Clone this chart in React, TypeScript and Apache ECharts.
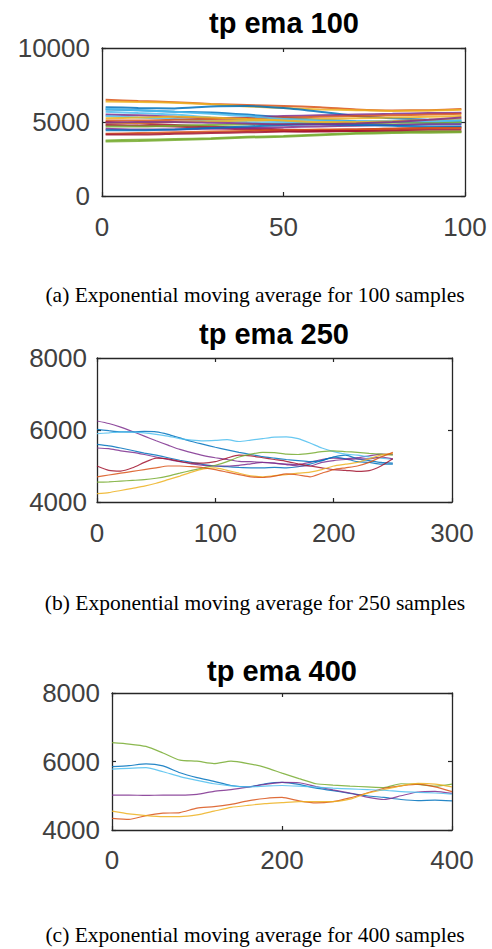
import React, { useEffect, useRef } from "react";
import * as echarts from "echarts";

// ---------- data ----------
const titleA = "tp ema 100";
const titleB = "tp ema 250";
const titleC = "tp ema 400";
const captionA = "(a) Exponential moving average for 100 samples";
const captionB = "(b) Exponential moving average for 250 samples";
const captionC = "(c) Exponential moving average for 400 samples";

// panel (a): 100 samples
const xA = [1, 10, 20, 30, 40, 50, 60, 70, 80, 90, 99];
const a01 = [6500, 6420, 6340, 6220, 6150, 6080, 6000, 5850, 5780, 5800, 5880];
const a02 = [6380, 6350, 6300, 6200, 6050, 5950, 5850, 5800, 5750, 5780, 5820];
const a03 = [6000, 5950, 5920, 6050, 6080, 5950, 5700, 5400, 5250, 5150, 5050];
const a04 = [5850, 5800, 5700, 5650, 5500, 5300, 5150, 5050, 5000, 4950, 4900];
const a05 = [5700, 5600, 5500, 5300, 5150, 5050, 4950, 5000, 5050, 5100, 5150];
const a06 = [5500, 5450, 5350, 5250, 5300, 5400, 5450, 5500, 5550, 5600, 5620];
const a07 = [5400, 5300, 5200, 5100, 5000, 4950, 4900, 4850, 4800, 4850, 4900];
const a08 = [5100, 5100, 5150, 5200, 5250, 5300, 5350, 5400, 5450, 5500, 5550];
const a09 = [5000, 4900, 4800, 4700, 4600, 4500, 4450, 4500, 4550, 4600, 4650];
const a10 = [4900, 4950, 5000, 5050, 5100, 5150, 5200, 5250, 5300, 5350, 5400];
const a11 = [4800, 4750, 4700, 4600, 4500, 4400, 4350, 4400, 4450, 4500, 4500];
const a12 = [4700, 4700, 4750, 4800, 4850, 4850, 4900, 4900, 4950, 4950, 5000];
const a13 = [4550, 4500, 4500, 4550, 4600, 4650, 4700, 4750, 4800, 4850, 4850];
const a14 = [4450, 4450, 4500, 4600, 4700, 4800, 4850, 4800, 4750, 4700, 4700];
const a15 = [4200, 4250, 4300, 4350, 4400, 4450, 4500, 4500, 4550, 4600, 4600];
const a16 = [4150, 4150, 4200, 4250, 4300, 4350, 4400, 4400, 4350, 4350, 4350];
const a17 = [3750, 3800, 3850, 3900, 4000, 4050, 4150, 4250, 4300, 4350, 4350];
const a18 = [3680, 3720, 3780, 3850, 3950, 4000, 4100, 4200, 4250, 4280, 4300];
const a19 = [5900, 5800, 5700, 5550, 5400, 5200, 5100, 5050, 5050, 5050, 5100];
const a20 = [5250, 5300, 5350, 5300, 5200, 5100, 5000, 5000, 5050, 5150, 5250];
const a21 = [4950, 5000, 5000, 4950, 4900, 4850, 4850, 4900, 5000, 5150, 5300];

// panel (b): 250 samples
const xB = [0, 10, 20, 30, 40, 50, 60, 70, 80, 90, 100, 110, 120, 130, 140, 150, 160, 170, 180, 190, 200, 210, 220, 230, 240, 250];
const b1 = [6250, 6180, 6080, 5960, 5830, 5700, 5580, 5460, 5370, 5290, 5230, 5180, 5130, 5120, 5100, 5080, 5050, 5040, 5100, 5180, 5220, 5200, 5230, 5280, 5330, 5320];
const b2 = [6020, 5980, 5950, 5950, 5960, 5950, 5880, 5780, 5680, 5600, 5520, 5450, 5380, 5320, 5260, 5220, 5180, 5150, 5120, 5150, 5250, 5300, 5200, 5150, 5100, 5080];
const b3 = [5900, 5920, 5950, 5940, 5920, 5880, 5830, 5760, 5720, 5700, 5710, 5730, 5680, 5720, 5760, 5800, 5810, 5760, 5640, 5500, 5400, 5330, 5300, 5250, 5220, 5180];
const b4 = [5600, 5560, 5500, 5430, 5360, 5300, 5230, 5160, 5100, 5040, 5000, 4980, 4960, 4950, 4950, 4960, 4950, 4980, 5050, 5150, 5250, 5200, 5120, 5100, 5050, 5050];
const b5 = [5500, 5480, 5420, 5380, 5320, 5250, 5180, 5120, 5060, 5020, 5000, 5000, 5020, 5060, 5100, 5080, 5040, 5000, 5000, 5100, 5150, 5180, 5200, 5200, 5250, 5200];
const b6 = [5000, 4880, 4860, 4950, 5100, 5220, 5200, 5130, 5080, 5080, 5120, 5220, 5300, 5280, 5230, 5180, 5130, 5060, 5000, 4950, 4900, 4880, 4850, 4870, 5000, 5200];
const b7 = [4550, 4560, 4580, 4600, 4620, 4660, 4720, 4800, 4880, 4950, 5020, 5120, 5250, 5330, 5380, 5370, 5330, 5320, 5350, 5400, 5420, 5400, 5380, 5350, 5330, 5300];
const b8 = [4230, 4260, 4320, 4380, 4440, 4520, 4620, 4720, 4830, 4920, 4950, 4880, 4800, 4730, 4700, 4730, 4760, 4800, 4830, 4900, 5000, 5050, 5100, 5200, 5300, 5350];
const b9 = [4700, 4750, 4800, 4850, 4900, 4950, 5000, 5000, 4980, 4950, 4900, 4830, 4760, 4700, 4680, 4720, 4780, 4750, 4700, 4800, 4900, 4950, 5000, 5100, 5250, 5380];

// panel (c): 400 samples
const xC = [0, 20, 40, 60, 80, 100, 120, 140, 160, 180, 200, 220, 240, 260, 280, 300, 320, 340, 360, 380, 400];
const c1 = [6550, 6510, 6440, 6250, 6040, 6010, 5940, 6010, 5940, 5830, 5660, 5500, 5350, 5310, 5280, 5260, 5240, 5350, 5330, 5280, 5340];
const c2 = [5850, 5880, 5930, 5870, 5670, 5530, 5420, 5300, 5260, 5350, 5390, 5330, 5220, 5150, 5070, 5000, 4950, 4890, 4860, 4870, 4850];
const c3 = [5020, 5020, 5010, 5020, 5020, 5040, 5130, 5180, 5250, 5330, 5390, 5380, 5270, 5170, 5080, 4960, 4890, 5000, 5110, 5130, 5070];
const c4 = [4340, 4310, 4420, 4490, 4510, 4640, 4680, 4750, 4850, 4920, 4950, 4850, 4790, 4830, 4940, 5080, 5220, 5290, 5340, 5260, 5120];
const c5 = [4550, 4470, 4420, 4390, 4390, 4440, 4550, 4660, 4720, 4770, 4800, 4830, 4830, 4830, 4900, 5070, 5180, 5290, 5360, 5340, 5260];
const c6 = [5780, 5800, 5820, 5700, 5560, 5450, 5350, 5290, 5260, 5280, 5300, 5280, 5250, 5220, 5200, 5180, 5160, 5120, 5100, 5080, 5050];

const yTicksA = { min: 0, max: 10000, interval: 5000 };
const xTicksA = { min: 0, max: 100, interval: 50 };
const yTicksB = { min: 4000, max: 8000, interval: 2000 };
const xTicksB = { min: 0, max: 300, interval: 100 };
const yTicksC = { min: 4000, max: 8000, interval: 2000 };
const xTicksC = { min: 0, max: 400, interval: 200 };

// ---------- styles ----------
const MATLAB = ["#0072BD", "#D95319", "#EDB120", "#7E2F8E", "#77AC30", "#4DBEEE", "#A2142F"];
const SANS = "'Liberation Sans', Arial, Helvetica, sans-serif";
const SERIF = "'Liberation Serif', 'Times New Roman', serif";
const AXIS = "#262626";
const LABEL = "#404040";

const seriesA = [a01, a02, a03, a04, a05, a06, a07, a08, a09, a10, a11, a12, a13, a14, a15, a16, a17, a18, a19, a20, a21];
const colorsA = [1, 2, 0, 0, 5, 3, 5, 1, 6, 2, 6, 4, 3, 0, 1, 6, 4, 4, 5, 2, 3];
const seriesB = [b1, b2, b3, b4, b5, b6, b7, b8, b9];
const colorsB = [3, 0, 5, 0, 3, 6, 4, 2, 1];
const seriesC = [c1, c2, c3, c4, c5, c6];
const colorsC = [4, 0, 3, 1, 2, 5];

const grids = [
  { left: 102, top: 48, width: 363, height: 148 },
  { left: 97, top: 358, width: 355, height: 144 },
  { left: 112, top: 693, width: 340, height: 137 },
];

function makeAxes(gi: number, xt: any, yt: any, xMargin: number, yMargin: number) {
  const line = { show: true, onZero: false, lineStyle: { color: AXIS, width: 1.3 } };
  const tick = { show: true, inside: true, length: 4, lineStyle: { color: AXIS, width: 1.2 } };
  const lbl = {
    show: true, color: LABEL, fontFamily: SANS, fontSize: 26,
    formatter: (v: number) => String(v),
  };
  const x = [
    { type: "value", gridIndex: gi, position: "bottom", ...xt, axisLine: line, axisTick: tick, splitLine: { show: false },
      axisLabel: { ...lbl, margin: xMargin, showMinLabel: true, showMaxLabel: true } },
    { type: "value", gridIndex: gi, position: "top", ...xt, axisLine: line, axisTick: tick, splitLine: { show: false },
      axisLabel: { show: false } },
  ];
  const y = [
    { type: "value", gridIndex: gi, position: "left", ...yt, axisLine: line, axisTick: tick, splitLine: { show: false },
      axisLabel: { ...lbl, margin: yMargin, padding: [6, 0, 0, 0], showMinLabel: true, showMaxLabel: true } },
    { type: "value", gridIndex: gi, position: "right", ...yt, axisLine: line, axisTick: tick, splitLine: { show: false },
      axisLabel: { show: false } },
  ];
  return { x, y };
}

function makeSeries(xs: number[], ys: number[][], colors: number[], axisBase: number, width: number) {
  return ys.map((arr, i) => ({
    type: "line",
    xAxisIndex: axisBase,
    yAxisIndex: axisBase,
    data: arr.map((v, j) => [xs[j], v]),
    showSymbol: false,
    smooth: 0.2,
    silent: true,
    lineStyle: { color: MATLAB[colors[i]], width, opacity: 0.85 },
  }));
}

export default function App() {
  const ref = useRef<HTMLDivElement>(null);
  useEffect(() => {
    if (!ref.current) return;
    const chart = echarts.init(ref.current, undefined, { renderer: "svg" });
    const A = makeAxes(0, xTicksA, yTicksA, 18, 12);
    const B = makeAxes(1, xTicksB, yTicksB, 18, 10);
    const C = makeAxes(2, xTicksC, yTicksC, 17, 12);
    const titleText = (text: string, x: number, y: number) => ({
      type: "text", x, y,
      style: { text, fill: "#000", font: `bold 29px ${SANS}`, textAlign: "center", textVerticalAlign: "middle" },
    });
    const capText = (text: string, x: number, y: number) => ({
      type: "text", x, y,
      style: { text, fill: "#000", font: `21.5px ${SERIF}`, textAlign: "center", textVerticalAlign: "middle" },
    });
    chart.setOption({
      animation: false,
      backgroundColor: "#fff",
      grid: grids.map((g) => ({ ...g, containLabel: false })),
      xAxis: [...A.x, ...B.x, ...C.x],
      yAxis: [...A.y, ...B.y, ...C.y],
      series: [
        ...makeSeries(xA, seriesA, colorsA, 0, 2),
        ...makeSeries(xB, seriesB, colorsB, 2, 1.2),
        ...makeSeries(xC, seriesC, colorsC, 4, 1.2),
      ],
      graphic: [
        titleText(titleA, 284, 23),
        titleText(titleB, 274, 334),
        titleText(titleC, 282, 671),
        capText(captionA, 255, 295),
        capText(captionB, 255, 603),
        capText(captionC, 255, 935),
      ],
    });
    return () => chart.dispose();
  }, []);
  return <div ref={ref} style={{ position: "absolute", left: 0, top: 0, width: 492, height: 949 }} />;
}
